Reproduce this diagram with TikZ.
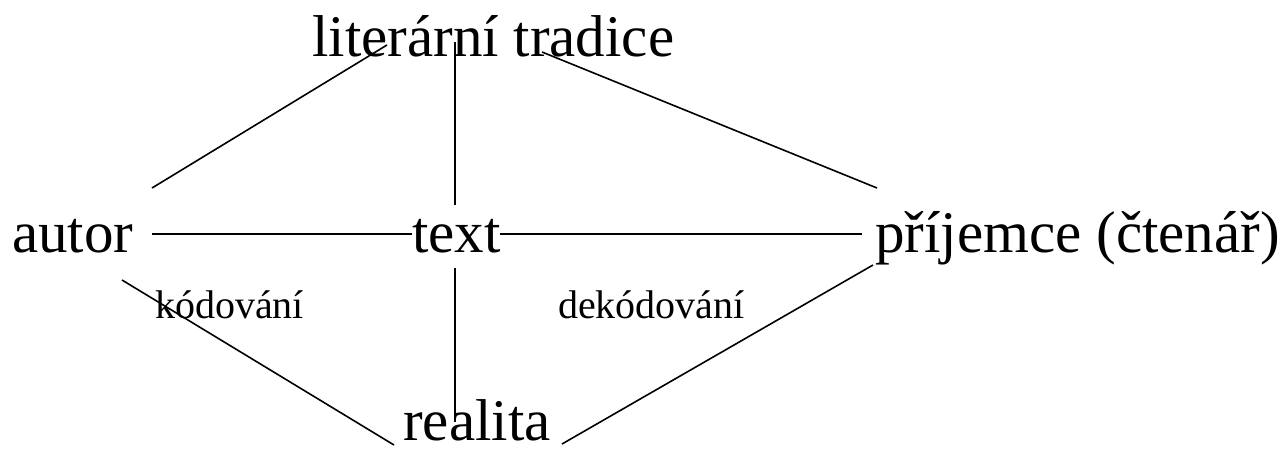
\documentclass[tikz,border=0pt]{standalone}
\usepackage{fontspec}
\setmainfont{Liberation Serif}
\begin{document}
\begin{tikzpicture}[x=1pt,y=-1pt,
  big/.style={inner sep=0pt,anchor=base west,font=\fontsize{59}{60}\selectfont},
  small/.style={inner sep=0pt,anchor=base west,font=\fontsize{40}{42}\selectfont},
  link/.style={line width=1.6pt}]
\useasboundingbox (0,0) rectangle (1285,451);
\node[big] (lit) at (312,56) {literární tradice};
\node[big] (autor) at (12,252) {autor};
\node[big] (text) at (412,252) {text};
\node[big] (prij) at (875,252) {příjemce (čtenář)};
\node[big] (real) at (403,440) {realita};
\node[small] (kod) at (155,318) {kódování};
\node[small] (dekod) at (558,318) {dekódování};
% connector ends
\coordinate (litA) at (387,45);
\coordinate (litT) at (455,42);
\coordinate (litP) at (542,52);
\coordinate (autN) at (152,188);
\coordinate (autE) at (152,234);
\coordinate (autS) at (122,280);
\coordinate (txtW) at (412,234);
\coordinate (txtE) at (500,234);
\coordinate (txtN) at (455,205);
\coordinate (txtS) at (455,268);
\coordinate (prjN) at (877,188);
\coordinate (prjW) at (862,234);
\coordinate (prjS) at (873,265);
\coordinate (relW) at (394,445);
\coordinate (relN) at (455,422);
\coordinate (relE) at (562,444);
\draw[link] (autN) -- (litA);
\draw[link] (txtN) -- (litT);
\draw[link] (litP) -- (prjN);
\draw[link] (autE) -- (txtW);
\draw[link] (txtE) -- (prjW);
\draw[link] (autS) -- (relW);
\draw[link] (txtS) -- (relN);
\draw[link] (relE) -- (prjS);
\end{tikzpicture}
\end{document}
